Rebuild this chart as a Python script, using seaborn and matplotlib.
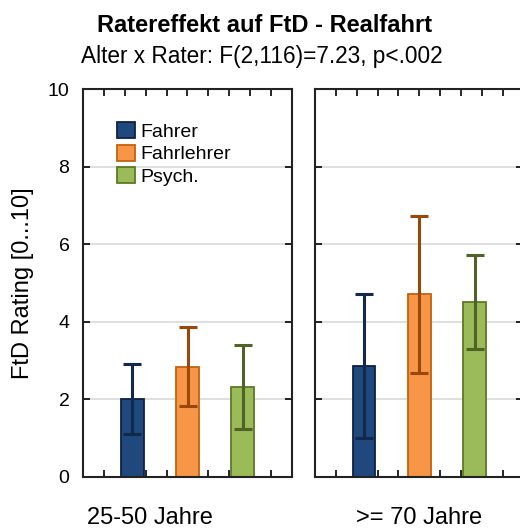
import numpy as np
import pandas as pd
import matplotlib
matplotlib.use("Agg")
import matplotlib.pyplot as plt
import seaborn as sns
from matplotlib.patches import Patch

# ---- data ----
raters = ["Fahrer", "Fahrlehrer", "Psych."]
groups = ["25-50 Jahre", ">= 70 Jahre"]
means_young = [2.00, 2.84, 2.31]
lower_young = [1.10, 1.82, 1.23]
upper_young = [2.92, 3.86, 3.39]
means_old = [2.86, 4.71, 4.51]
lower_old = [0.99, 2.67, 3.29]
upper_old = [4.72, 6.74, 5.73]
yticks = [0, 2, 4, 6, 8, 10]

fill_colors = ["#1F497D", "#F79646", "#9BBB59"]
edge_colors = ["#0E2245", "#C0620E", "#5C7A24"]
err_colors = ["#13294B", "#984807", "#4F6228"]

sns.set_theme(style="white")
plt.rcParams["font.family"] = ["Liberation Sans", "DejaVu Sans"]
plt.rcParams["text.color"] = "black"
plt.rcParams["axes.labelcolor"] = "black"
plt.rcParams["xtick.color"] = "black"
plt.rcParams["ytick.color"] = "black"

W, H = 520, 529
fig = plt.figure(figsize=(W / 100, H / 100), dpi=100)

def ax_rect(x0, x1, ytop, ybot):
    return [x0 / W, 1 - ybot / H, (x1 - x0) / W, (ybot - ytop) / H]

ax1 = fig.add_axes(ax_rect(83.3, 291.7, 89.3, 476.7))
ax2 = fig.add_axes(ax_rect(315.0, 523.4, 89.3, 476.7))

half = 1.883
xlim = (1 - half, 1 + half)
xminor = [xlim[0] + k * (2 * half) / 10 for k in range(1, 10)]

datasets = [(means_young, lower_young, upper_young), (means_old, lower_old, upper_old)]
for i, (ax, (m, lo, hi)) in enumerate(zip([ax1, ax2], datasets)):
    df = pd.DataFrame({"Rater": raters, "Wert": m})
    sns.barplot(data=df, x="Rater", y="Wert", hue="Rater", palette=fill_colors,
                order=raters, hue_order=raters, width=0.41, errorbar=None,
                saturation=1, legend=False, ax=ax, zorder=2)
    for p, ec in zip(ax.patches, edge_colors):
        p.set_edgecolor(ec)
        p.set_linewidth(1.3)
    for j in range(3):
        ax.errorbar([j], [m[j]],
                    yerr=[[m[j] - lo[j]], [hi[j] - m[j]]],
                    fmt="none", ecolor=err_colors[j], elinewidth=2.2,
                    capsize=6.8, capthick=2.2, zorder=3)
    ax.set_xlim(*xlim)
    ax.set_ylim(0, 10)
    ax.set_yticks(yticks)
    ax.set_xticks(xminor)
    ax.set_xticklabels([])
    ax.set_xlabel("")
    ax.set_ylabel("")
    for yv in [2, 4, 6, 8]:
        ax.axhline(yv, color="#D9D9D9", lw=1.2, zorder=0)
    ax.tick_params(axis="both", direction="in", length=5, width=1.2,
                   color="black", top=True, right=True, left=True, bottom=True,
                   labelsize=14, labelcolor="black", pad=10)
    for s in ax.spines.values():
        s.set_color("#222222")
        s.set_linewidth(1.5)
    if i == 1:
        ax.set_yticklabels([])

leg_handles = [Patch(facecolor=f, edgecolor=e, linewidth=1.3, label=r)
               for f, e, r in zip(fill_colors, edge_colors, raters)]
ax1.legend(handles=leg_handles, loc="upper left", bbox_to_anchor=(0.163, 0.916),
           frameon=False, fontsize=14, handlelength=0.9, handleheight=0.9,
           handletextpad=0.3, labelspacing=0.2, borderaxespad=0, borderpad=0)

fig.text(0.5096, 1 - 32 / H, "Ratereffekt auf FtD - Realfahrt", ha="center",
         va="baseline", fontsize=17, fontweight="bold")
fig.text(0.503, 1 - 63 / H, "Alter x Rater: F(2,116)=7.23, p<.002", ha="center",
         va="baseline", fontsize=16.3)
fig.text(23 / W, 1 - 283 / H, "FtD Rating [0...10]", rotation=90, ha="center",
         va="center", fontsize=17)
fig.text(150 / W, 1 - 524.5 / H, groups[0], ha="center", va="baseline", fontsize=17)
fig.text(419.5 / W, 1 - 524.5 / H, groups[1], ha="center", va="baseline", fontsize=17)

fig.savefig("out.png", dpi=100)
